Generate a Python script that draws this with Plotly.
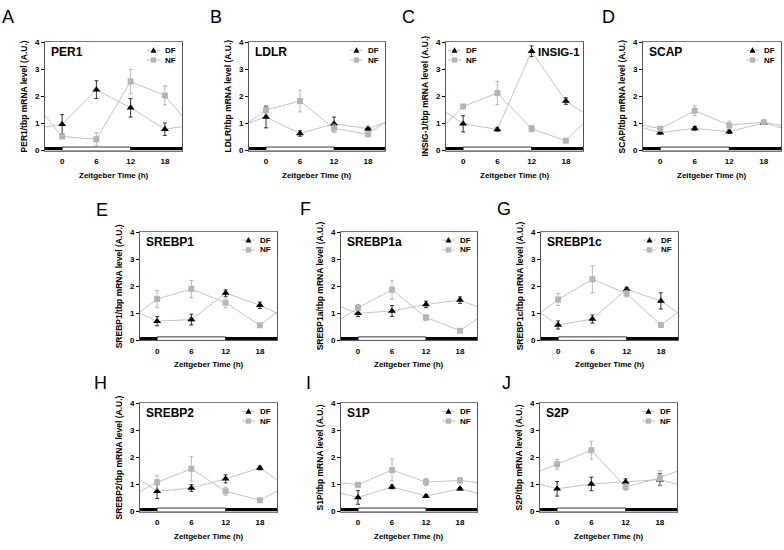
import plotly.graph_objects as go

W, H = 784, 550
FONT = "Arial, Liberation Sans, sans-serif"

# ---------------- data ----------------
time = [0, 6, 12, 18]
x_ticks = [0, 6, 12, 18]
y_ticks = [0, 1, 2, 3, 4]
zt_range = [-3, 21]
y_range = [0, 4]
light_phase = [0, 12]
period = 24

per1_df = [0.97, 2.25, 1.58, 0.79]
per1_df_err = [0.36, 0.33, 0.34, 0.23]
per1_nf = [0.52, 0.42, 2.55, 2.04]
per1_nf_err = [0.08, 0.24, 0.45, 0.35]

ldlr_df = [1.24, 0.63, 0.99, 0.81]
ldlr_df_err = [0.40, 0.10, 0.25, 0.05]
ldlr_nf = [1.50, 1.83, 0.82, 0.60]
ldlr_nf_err = [0.15, 0.40, 0.15, 0.06]

insig1_df = [0.99, 0.78, 3.67, 1.83]
insig1_df_err = [0.30, 0.06, 0.20, 0.12]
insig1_nf = [1.63, 2.13, 0.81, 0.36]
insig1_nf_err = [0.06, 0.43, 0.12, 0.06]

scap_df = [0.66, 0.82, 0.70, 1.02]
scap_df_err = [0.05, 0.07, 0.07, 0.05]
scap_nf = [0.81, 1.47, 0.94, 1.05]
scap_nf_err = [0.08, 0.18, 0.15, 0.07]

srebp1_df = [0.71, 0.77, 1.75, 1.30]
srebp1_df_err = [0.17, 0.20, 0.12, 0.12]
srebp1_nf = [1.53, 1.90, 1.39, 0.56]
srebp1_nf_err = [0.32, 0.32, 0.18, 0.05]

srebp1a_df = [1.00, 1.09, 1.33, 1.49]
srebp1a_df_err = [0.12, 0.20, 0.12, 0.12]
srebp1a_nf = [1.21, 1.87, 0.85, 0.36]
srebp1a_nf_err = [0.12, 0.35, 0.10, 0.07]

srebp1c_df = [0.57, 0.79, 1.89, 1.46]
srebp1c_df_err = [0.15, 0.15, 0.07, 0.30]
srebp1c_nf = [1.51, 2.26, 1.73, 0.57]
srebp1c_nf_err = [0.22, 0.50, 0.12, 0.05]

srebp2_df = [0.75, 0.87, 1.21, 1.61]
srebp2_df_err = [0.27, 0.12, 0.15, 0.07]
srebp2_nf = [1.08, 1.58, 0.75, 0.42]
srebp2_nf_err = [0.25, 0.45, 0.15, 0.05]

s1p_df = [0.52, 0.91, 0.57, 0.84]
s1p_df_err = [0.25, 0.07, 0.05, 0.05]
s1p_nf = [0.99, 1.54, 1.09, 1.15]
s1p_nf_err = [0.08, 0.40, 0.13, 0.10]

s2p_df = [0.84, 1.02, 1.09, 1.18]
s2p_df_err = [0.27, 0.25, 0.12, 0.22]
s2p_nf = [1.75, 2.27, 0.91, 1.24]
s2p_nf_err = [0.18, 0.33, 0.12, 0.27]

# panel: letter, gene, data, pixel box (left, right, top, bottom), letter pos, legend side, title side
panels = [
    ("A", "PER1", per1_df, per1_df_err, per1_nf, per1_nf_err, (45, 182, 39, 149), (8, 13), "right", "left"),
    ("B", "LDLR", ldlr_df, ldlr_df_err, ldlr_nf, ldlr_nf_err, (249, 385, 39, 149), (216, 13), "right", "left"),
    ("C", "INSIG-1", insig1_df, insig1_df_err, insig1_nf, insig1_nf_err, (446, 583, 39, 149), (409, 13), "left", "right"),
    ("D", "SCAP", scap_df, scap_df_err, scap_nf, scap_nf_err, (643, 781, 39, 149), (608, 13), "right", "left"),
    ("E", "SREBP1", srebp1_df, srebp1_df_err, srebp1_nf, srebp1_nf_err, (140, 277, 232, 342), (102, 209), "right", "left"),
    ("F", "SREBP1a", srebp1a_df, srebp1a_df_err, srebp1a_nf, srebp1a_nf_err, (341, 477, 232, 342), (305, 208), "right", "left"),
    ("G", "SREBP1c", srebp1c_df, srebp1c_df_err, srebp1c_nf, srebp1c_nf_err, (541, 678, 232, 342), (504, 208), "right", "left"),
    ("H", "SREBP2", srebp2_df, srebp2_df_err, srebp2_nf, srebp2_nf_err, (140, 277, 406, 516), (101, 385), "right", "left"),
    ("I", "S1P", s1p_df, s1p_df_err, s1p_nf, s1p_nf_err, (341, 477, 406, 516), (308, 385), "right", "left"),
    ("J", "S2P", s2p_df, s2p_df_err, s2p_nf, s2p_nf_err, (540, 677, 406, 516), (506, 385), "right", "left"),
]

LINE_GREY = "#c4c4c4"
NF_GREY = "#b5b5b5"
NF_ERR = "#a8a8a8"


def px(x):
    return x / W


def py(y):
    return 1 - y / H


def wrap(t, v):
    # periodic repetition of the 24 h cycle so the line runs to the panel edges
    return [t[-1] - period] + list(t) + [t[0] + period], [v[-1]] + list(v) + [v[0]]


fig = go.Figure()
shapes = []
annotations = []
layout_axes = {}

for i, (letter, gene, df, dfe, nf, nfe, box, lpos, leg_side, title_side) in enumerate(panels, start=1):
    left, right, top, bottom = box
    xa = "x" if i == 1 else f"x{i}"
    ya = "y" if i == 1 else f"y{i}"
    xname = "xaxis" if i == 1 else f"xaxis{i}"
    yname = "yaxis" if i == 1 else f"yaxis{i}"

    layout_axes[xname] = dict(
        domain=[px(left), px(right)], anchor=ya, range=zt_range,
        tickvals=x_ticks, ticks="outside", ticklen=3, tickcolor="rgba(0,0,0,0)",
        showgrid=False, zeroline=False, showline=True, linecolor="#777", linewidth=1,
        mirror=True, tickfont=dict(family=FONT, size=8, color="black", weight="bold"),
        fixedrange=True,
    )
    layout_axes[yname] = dict(
        domain=[py(bottom), py(top)], anchor=xa, range=y_range,
        tickvals=y_ticks, ticks="outside", ticklen=3, tickcolor="black", tickwidth=1,
        showgrid=False, zeroline=False, showline=True, linecolor="#555", linewidth=1,
        mirror=True, tickfont=dict(family=FONT, size=8, color="black", weight="bold"),
        fixedrange=True,
    )

    # connecting lines (wrapped)
    for vals in (df, nf):
        wx, wy = wrap(time, vals)
        fig.add_trace(go.Scatter(
            x=wx, y=wy, xaxis=xa, yaxis=ya, mode="lines",
            line=dict(color=LINE_GREY, width=1), showlegend=False, hoverinfo="skip",
        ))
    # DF markers
    fig.add_trace(go.Scatter(
        x=time, y=df, xaxis=xa, yaxis=ya, mode="markers", name="DF", showlegend=False,
        marker=dict(symbol="triangle-up", size=7, color="black"),
        error_y=dict(type="data", array=dfe, color="black", thickness=0.8, width=2),
    ))
    # NF markers
    fig.add_trace(go.Scatter(
        x=time, y=nf, xaxis=xa, yaxis=ya, mode="markers", name="NF", showlegend=False,
        marker=dict(symbol="square", size=6, color=NF_GREY),
        error_y=dict(type="data", array=nfe, color=NF_ERR, thickness=0.8, width=2),
    ))

    # light/dark bar
    bar_h = 0.13
    shapes.append(dict(type="rect", xref=xa, yref=ya, x0=zt_range[0], x1=light_phase[0],
                       y0=0, y1=bar_h, fillcolor="black", line=dict(width=0), layer="above"))
    shapes.append(dict(type="rect", xref=xa, yref=ya, x0=light_phase[0], x1=light_phase[1],
                       y0=0, y1=bar_h, fillcolor="white", line=dict(color="black", width=0.8), layer="above"))
    shapes.append(dict(type="rect", xref=xa, yref=ya, x0=light_phase[1], x1=zt_range[1],
                       y0=0, y1=bar_h, fillcolor="black", line=dict(width=0), layer="above"))

    # panel letter
    annotations.append(dict(text=letter, x=px(lpos[0]), y=py(lpos[1]), xref="paper", yref="paper",
                            xanchor="center", yanchor="middle", showarrow=False,
                            font=dict(family=FONT, size=18, color="black")))
    # gene title
    if title_side == "left":
        annotations.append(dict(text=f"<b>{gene}</b>", x=px(left + 4), y=py(top + 10), xref="paper",
                                yref="paper", xanchor="left", yanchor="middle", showarrow=False,
                                font=dict(family=FONT, size=12, color="black")))
    else:
        annotations.append(dict(text=f"<b>{gene}</b>", x=px(right - 1), y=py(top + 10), xref="paper",
                                yref="paper", xanchor="right", yanchor="middle", showarrow=False,
                                font=dict(family=FONT, size=11.5, color="black")))
    # axis titles
    annotations.append(dict(text=f"<b>{gene}/tbp mRNA level (A.U.)</b>", x=px(left - 21),
                            y=py((top + bottom) / 2), xref="paper", yref="paper", textangle=-90,
                            xanchor="center", yanchor="middle", showarrow=False,
                            font=dict(family=FONT, size=8.5, color="black")))
    annotations.append(dict(text="<b>Zeitgeber Time (h)</b>", x=px((left + right) / 2), y=py(bottom + 25),
                            xref="paper", yref="paper", xanchor="center", yanchor="middle",
                            showarrow=False, font=dict(family=FONT, size=8, color="black")))

    # legend keys
    if leg_side == "right":
        lx0, lx1, mx, tx = right - 35, right - 22, right - 28.5, right - 19
    else:
        lx0, lx1, mx, tx = left + 2, left + 15, left + 8.5, left + 18
    for row, (lab, sym) in enumerate((("DF", "tri"), ("NF", "sq"))):
        yy = top + 8 + 10 * row
        shapes.append(dict(type="line", xref="paper", yref="paper", x0=px(lx0), x1=px(lx1),
                           y0=py(yy), y1=py(yy), line=dict(color=LINE_GREY, width=1)))
        if sym == "tri":
            path = (f"M{px(mx - 3)},{py(yy + 2.5)} L{px(mx + 3)},{py(yy + 2.5)} "
                    f"L{px(mx)},{py(yy - 3)} Z")
            shapes.append(dict(type="path", xref="paper", yref="paper", path=path,
                               fillcolor="black", line=dict(width=0)))
        else:
            shapes.append(dict(type="rect", xref="paper", yref="paper", x0=px(mx - 2.7), x1=px(mx + 2.7),
                               y0=py(yy + 2.7), y1=py(yy - 2.7), fillcolor=NF_GREY, line=dict(width=0)))
        annotations.append(dict(text=f"<b>{lab}</b>", x=px(tx), y=py(yy), xref="paper", yref="paper",
                                xanchor="left", yanchor="middle", showarrow=False,
                                font=dict(family=FONT, size=8, color="black")))

fig.update_layout(
    width=W, height=H, margin=dict(l=0, r=0, t=0, b=0),
    paper_bgcolor="white", plot_bgcolor="white",
    showlegend=False, shapes=shapes, annotations=annotations,
    font=dict(family=FONT, color="black"),
    **layout_axes,
)

fig.write_html(
    "out.html",
    config={"displayModeBar": False, "staticPlot": True},
    post_script="document.body.style.margin='0';document.body.style.overflow='hidden';",
)
